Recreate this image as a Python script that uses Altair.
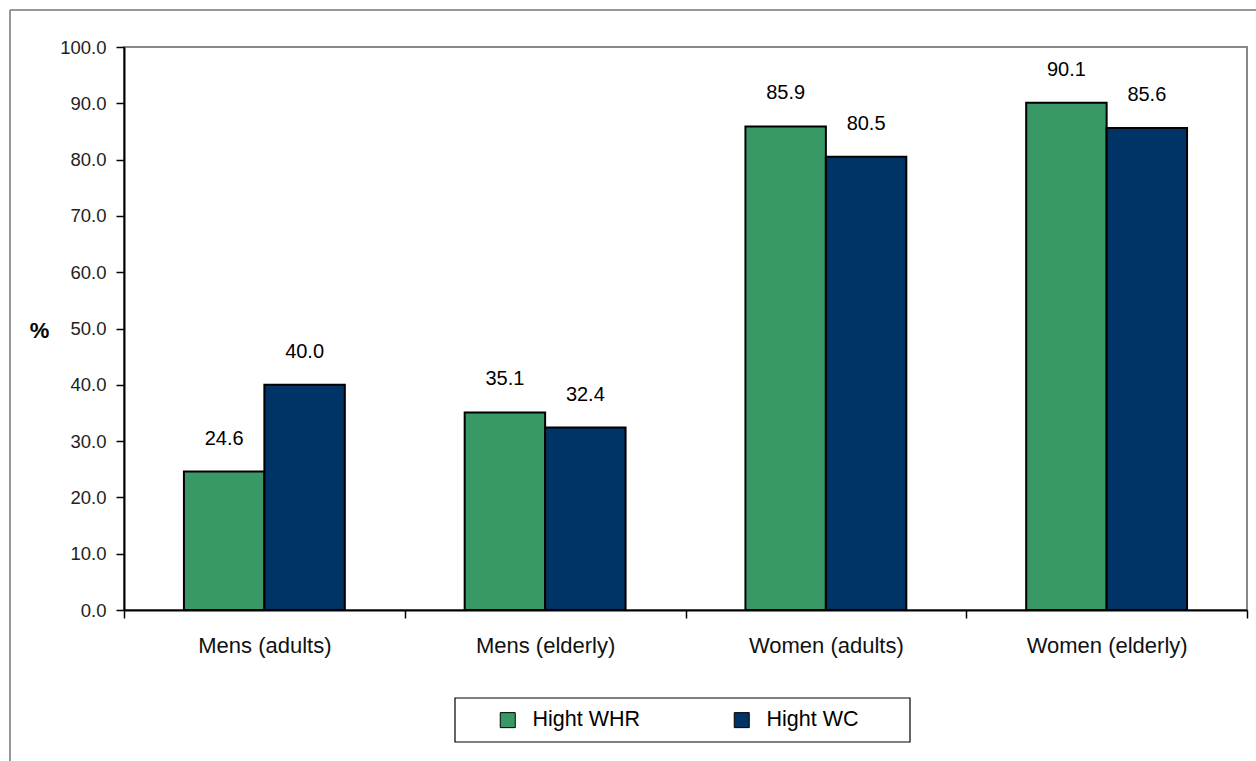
import altair as alt
import pandas as pd

categories = ["Mens (adults)", "Mens (elderly)", "Women (adults)", "Women (elderly)"]
series = ["Hight WHR", "Hight WC"]
whr = [24.6, 35.1, 85.9, 90.1]
wc = [40.0, 32.4, 80.5, 85.6]
y_ticks = [0, 10, 20, 30, 40, 50, 60, 70, 80, 90, 100]

rows = []
for c, a, b in zip(categories, whr, wc):
    rows.append({"cat": c, "series": series[0], "value": a})
    rows.append({"cat": c, "series": series[1], "value": b})
df = pd.DataFrame(rows)

FONT = "Liberation Sans"
W, H = 1123, 563

x = alt.X("cat:N", sort=categories, title=None,
          scale=alt.Scale(paddingInner=0, paddingOuter=0),
          axis=alt.Axis(labelAngle=0, labelFont=FONT, labelFontSize=22, labelColor="#111",
                        labelPadding=17, tickBand="extent", tickSize=8, tickColor="black",
                        tickWidth=1.5, domainColor="black", domainWidth=2, labelLimit=400))
xo = alt.XOffset("series:N", sort=series,
                 scale=alt.Scale(paddingOuter=0.745, paddingInner=0))
y = alt.Y("value:Q", scale=alt.Scale(domain=[0, 100], nice=False),
          axis=alt.Axis(values=y_ticks, format=".1f", grid=False, labelFont=FONT,
                        labelFontSize=18.5, labelColor="#222", labelPadding=10,
                        tickSize=8, tickColor="black", tickWidth=1.5,
                        domainColor="black", domainWidth=2,
                        title="%", titleAngle=0, titleFont=FONT, titleFontSize=22,
                        titleFontWeight="bold", titleX=-85, titleY=283,
                        titleAlign="center", titleBaseline="middle", titleColor="black"))
color = alt.Color("series:N", sort=series,
                  scale=alt.Scale(domain=series, range=["#389966", "#003366"]),
                  legend=alt.Legend(title=None, orient="none", legendX=331, legendY=651,
                                    direction="horizontal",
                                    padding=11, symbolType="square", symbolSize=225,
                                    symbolStrokeColor="black", symbolStrokeWidth=1,
                                    symbolOffset=31, labelOffset=14, columnPadding=59,
                                    labelFont=FONT, labelFontSize=21.5, labelColor="black",
                                    labelLimit=400))

bars = alt.Chart(df).mark_bar(stroke="black", strokeWidth=2).encode(
    x=x, xOffset=xo, y=y, color=color)

labels = alt.Chart(df).mark_text(font=FONT, fontSize=20, color="black",
                                 baseline="middle", dy=-33).encode(
    x=alt.X("cat:N", sort=categories), xOffset=alt.XOffset("series:N", sort=series),
    y="value:Q", text=alt.Text("value:Q", format=".1f"))

frame = pd.DataFrame({"k": [0]})
top_rule = alt.Chart(frame).mark_rule(color="#777", strokeWidth=1.5).encode(
    x=alt.value(-114), x2=alt.value(1140), y=alt.value(-37))
left_rule = alt.Chart(frame).mark_rule(color="#777", strokeWidth=1.5).encode(
    x=alt.value(-114), y=alt.value(-37), y2=alt.value(720))
legend_box = alt.Chart(frame).mark_rect(fill="white", stroke="black", strokeWidth=1.2).encode(
    x=alt.value(331), x2=alt.value(786), y=alt.value(651), y2=alt.value(695))

chart = alt.layer(bars, labels, top_rule, left_rule, legend_box).properties(
    width=W, height=H,
    autosize=alt.AutoSizeParams(type="none"),
    padding={"left": 124, "top": 47, "right": 9, "bottom": 151},
    background="white",
).configure_view(stroke="#888", strokeWidth=2)

chart.save("out.html", embed_options={"renderer": "svg", "actions": False})
